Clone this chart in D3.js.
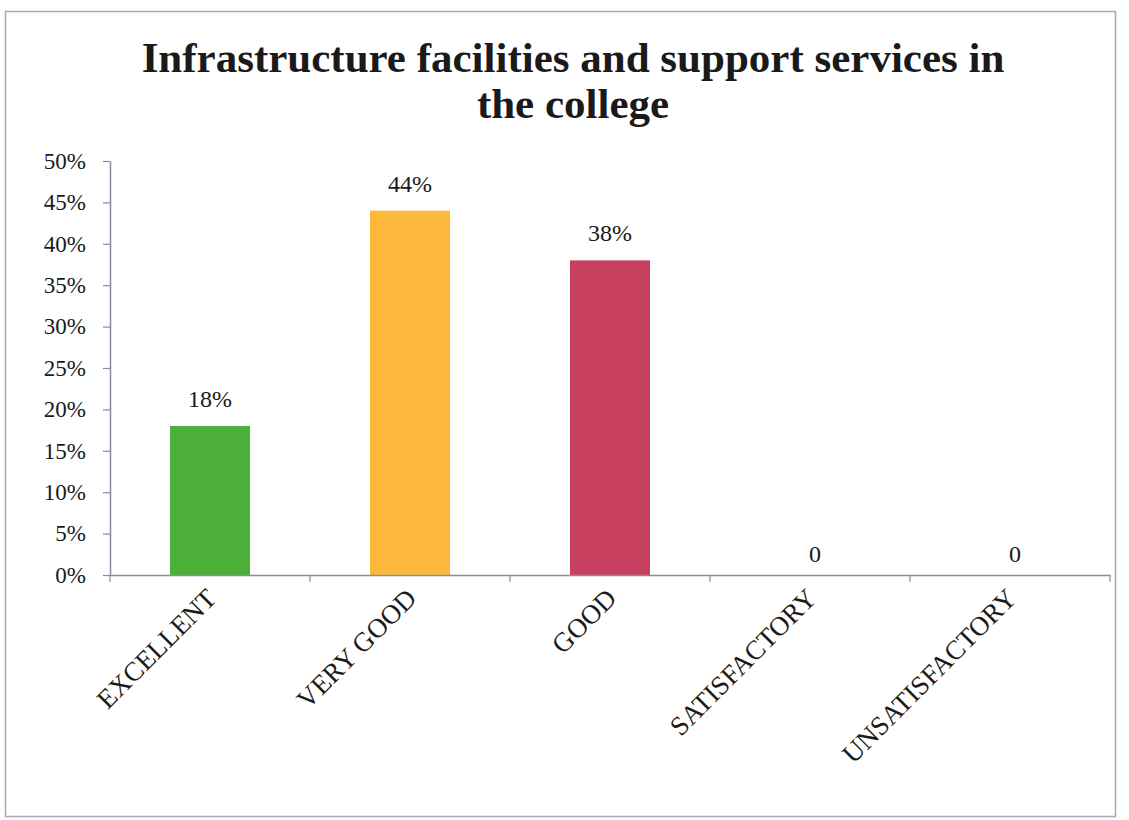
<!DOCTYPE html>
<html><head><meta charset="utf-8">
<script src="https://d3js.org/d3.v7.min.js"></script>
<style>body{margin:0;background:#fff}</style>
</head><body>
<script>
const categories = ["EXCELLENT","VERY GOOD","GOOD","SATISFACTORY","UNSATISFACTORY"];
const values = [0.18, 0.44, 0.38, 0, 0];
const valueLabels = ["18%","44%","38%","0","0"];
const barColors = ["#4caf37","#fbb83a","#c8405f","#888","#888"];
const yTicks = [0,0.05,0.1,0.15,0.2,0.25,0.3,0.35,0.4,0.45,0.5];
const titleLines = ["Infrastructure facilities and support services in","the college"];

const W=1129,H=820;
const svg=d3.select("body").append("svg").attr("width",W).attr("height",H);
svg.append("rect").attr("x",5.5).attr("y",11.5).attr("width",1110).attr("height",805)
  .attr("fill","#fff").attr("stroke","#a9a9b3").attr("stroke-width",1.5);

const font="'Liberation Serif','Times New Roman',serif";
svg.append("g").selectAll("text").data(titleLines).join("text")
  .attr("x",573).attr("y",(d,i)=>72+i*46).attr("text-anchor","middle")
  .attr("font-family",font).attr("font-weight","bold").attr("font-size",43)
  .attr("fill","#1a1a1a").text(d=>d);

const x=d3.scaleBand().domain(categories).range([110,1110]).paddingInner(0.6).paddingOuter(0.3);
const xb=d3.scaleBand().domain(categories).range([110,1110]);
const y=d3.scaleLinear().domain([0,0.5]).range([575,161]);

const ya=svg.append("g").attr("transform","translate(110,0)")
  .call(d3.axisLeft(y).tickValues(yTicks).tickFormat(d3.format(".0%")).tickSize(7).tickSizeOuter(0));
ya.select(".domain").attr("stroke","#8a8aa0").attr("stroke-width",1.5);
ya.selectAll(".tick line").attr("stroke","#8a8aa0").attr("stroke-width",1.2);
ya.selectAll(".tick text").attr("font-family",font).attr("font-size",23).attr("fill","#1a1a1a").attr("x",-24);

svg.append("g").selectAll("rect").data(values).join("rect")
  .attr("x",(d,i)=>x(categories[i])).attr("width",x.bandwidth())
  .attr("y",d=>y(d)).attr("height",d=>y(0)-y(d))
  .attr("fill",(d,i)=>barColors[i]);

const xa=svg.append("g").attr("transform","translate(0,575)")
  .call(d3.axisBottom(xb).tickSize(0).tickFormat(""));
xa.select(".domain").attr("stroke","#8a8aa0").attr("stroke-width",1.5);
const tickPos=d3.range(categories.length+1).map(i=>110+i*xb.step());
svg.append("g").selectAll("line").data(tickPos).join("line")
  .attr("x1",d=>d).attr("x2",d=>d).attr("y1",575).attr("y2",582)
  .attr("stroke","#8a8aa0").attr("stroke-width",1.2);

svg.append("g").selectAll("text").data(categories).join("text")
  .attr("transform",d=>`translate(${xb(d)+xb.bandwidth()/2+8},${600}) rotate(-45)`)
  .attr("text-anchor","end").attr("font-family",font).attr("font-size",27).attr("fill","#1a1a1a")
  .text(d=>d);

svg.append("g").selectAll("text").data(values).join("text")
  .attr("x",(d,i)=>xb(categories[i])+xb.bandwidth()/2+(d===0?5:0))
  .attr("y",d=>y(d)-(d===0?13:19)).attr("text-anchor","middle")
  .attr("font-family",font).attr("font-size",24).attr("fill","#1a1a1a")
  .text((d,i)=>valueLabels[i]);
</script>
</body></html>
